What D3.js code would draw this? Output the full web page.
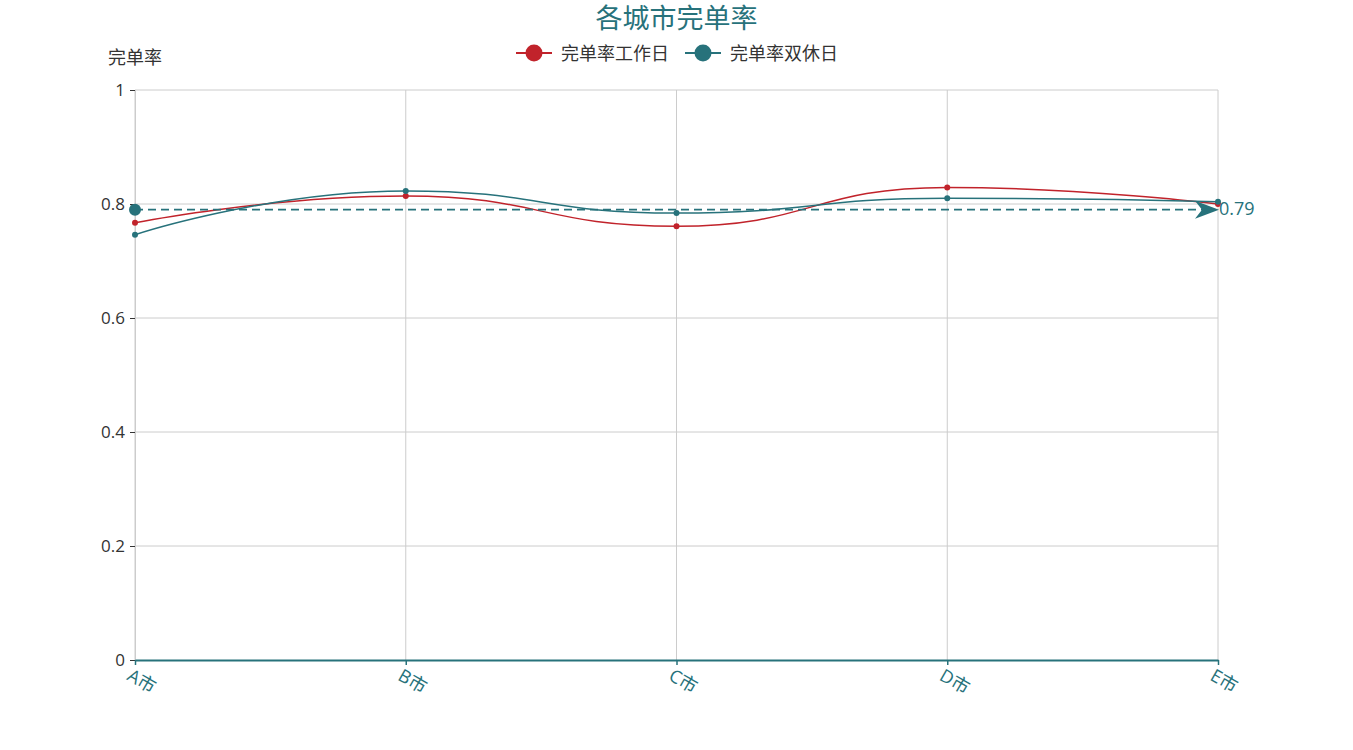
<!DOCTYPE html>
<html>
<head>
<meta charset="utf-8">
<script src="https://cdnjs.cloudflare.com/ajax/libs/d3/7.8.5/d3.min.js"></script>
<style>
  body { margin: 0; background: #fff; }
  text { font-family: "Open Sans", "Noto Sans CJK SC", sans-serif; }
</style>
</head>
<body>
<div id="chart"></div>
<script>
// chart data
const cities = ["A市", "B市", "C市", "D市", "E市"];
const workdayRate = [0.767, 0.814, 0.761, 0.829, 0.800];
const weekendRate = [0.746, 0.823, 0.784, 0.810, 0.804];
const yTicks = [0, 0.2, 0.4, 0.6, 0.8, 1];
const seriesNames = ["完单率工作日", "完单率双休日"];
const markValue = 0.79;

const width = 1353, height = 750;
const margin = { top: 90, right: 135, bottom: 90, left: 135 };
const red = "#c1232b", teal = "#27727b";

const svg = d3.select("#chart").append("svg")
  .attr("width", width)
  .attr("height", height);

const x = d3.scalePoint().domain(cities).range([margin.left, width - margin.right]);
const y = d3.scaleLinear().domain([0, 1]).range([height - margin.bottom, margin.top]);

// title
svg.append("text")
  .attr("x", width / 2).attr("y", 28)
  .attr("text-anchor", "middle")
  .style("font-size", "27px")
  .style("fill", teal)
  .text("各城市完单率");

// legend
const legend = svg.append("g");
const legendItems = [
  { name: seriesNames[0], color: red, x: 516 },
  { name: seriesNames[1], color: teal, x: 685 }
];
legendItems.forEach(d => {
  const g = legend.append("g").attr("transform", `translate(${d.x},53)`);
  g.append("line").attr("x1", 0).attr("x2", 36).attr("y1", 0).attr("y2", 0)
    .style("stroke", d.color).style("stroke-width", 2);
  g.append("circle").attr("cx", 18).attr("cy", 0).attr("r", 8.5).style("fill", d.color);
  g.append("text").attr("x", 45).attr("y", 6.5)
    .style("font-size", "18px").style("fill", "#333").text(d.name);
});

// y axis name
svg.append("text")
  .attr("x", margin.left).attr("y", 64)
  .attr("text-anchor", "middle")
  .style("font-size", "18px").style("fill", "#333")
  .text("完单率");

// grid
const grid = svg.append("g");
grid.selectAll("line.h").data(yTicks.slice(1)).enter().append("line")
  .attr("x1", margin.left).attr("x2", width - margin.right)
  .attr("y1", d => y(d)).attr("y2", d => y(d))
  .style("stroke", "#ccc").style("stroke-width", 1);
grid.selectAll("line.v").data(cities).enter().append("line")
  .attr("x1", d => x(d)).attr("x2", d => x(d))
  .attr("y1", y(1)).attr("y2", y(0))
  .style("stroke", "#ccc").style("stroke-width", 1);

// y axis
const yAxis = svg.append("g")
  .attr("transform", `translate(${margin.left},0)`)
  .call(d3.axisLeft(y).tickValues(yTicks).tickSize(5).tickPadding(5).tickFormat(d3.format("")));
yAxis.select(".domain").style("stroke", "#ccc");
yAxis.selectAll(".tick line").style("stroke", "#333");
yAxis.selectAll(".tick text").style("font-size", "17px").style("fill", "#333")
  .style("font-family", "\"Open Sans\", sans-serif");

// x axis
const xAxis = svg.append("g")
  .attr("transform", `translate(0,${y(0)})`)
  .call(d3.axisBottom(x).tickSize(5).tickSizeOuter(0));
xAxis.select(".domain").style("stroke", teal).style("stroke-width", 2);
xAxis.selectAll(".tick line").style("stroke", teal).style("stroke-width", 1.5);
xAxis.selectAll(".tick text")
  .attr("y", 0).attr("dy", 0)
  .attr("transform", "translate(-2,6) rotate(30)")
  .attr("text-anchor", "start")
  .attr("dominant-baseline", "hanging")
  .style("font-size", "18px").style("fill", teal);

// smooth path like echarts (smooth: 0.5, control points clamped to neighbours)
function smoothPath(pts, smooth) {
  const p = d3.path();
  const clamp = (v, a, b) => Math.max(Math.min(v, Math.max(a, b)), Math.min(a, b));
  const n = pts.length;
  const cpIn = [], cpOut = [];
  for (let i = 0; i < n; i++) {
    const [px, py] = pts[i];
    if (i === 0 || i === n - 1) {
      cpIn[i] = [px, py]; cpOut[i] = [px, py];
      continue;
    }
    const [ax, ay] = pts[i - 1], [bx, by] = pts[i + 1];
    const lenPrev = Math.hypot(px - ax, py - ay);
    const lenNext = Math.hypot(bx - px, by - py);
    const ratio = lenNext / (lenNext + lenPrev);
    const vx = (bx - ax) * smooth, vy = (by - ay) * smooth;
    let ox = clamp(px + vx * ratio, px, bx), oy = clamp(py + vy * ratio, py, by);
    let ix = clamp(px - (ox - px) * lenPrev / lenNext, ax, px);
    let iy = clamp(py - (oy - py) * lenPrev / lenNext, ay, py);
    ox = px + (px - ix) * lenNext / lenPrev;
    oy = py + (py - iy) * lenNext / lenPrev;
    cpIn[i] = [ix, iy]; cpOut[i] = [ox, oy];
  }
  p.moveTo(pts[0][0], pts[0][1]);
  for (let i = 1; i < n; i++) {
    p.bezierCurveTo(cpOut[i - 1][0], cpOut[i - 1][1], cpIn[i][0], cpIn[i][1], pts[i][0], pts[i][1]);
  }
  return p.toString();
}

const series = [
  { values: workdayRate, color: red },
  { values: weekendRate, color: teal }
];
series.forEach(s => {
  const pts = s.values.map((v, i) => [x(cities[i]), y(v)]);
  svg.append("path")
    .attr("d", smoothPath(pts, 0.5))
    .style("fill", "none")
    .style("stroke", s.color)
    .style("stroke-width", 1.5);
  svg.selectAll(null).data(s.values).enter().append("circle")
    .attr("cx", (d, i) => x(cities[i]))
    .attr("cy", d => y(d))
    .attr("r", 3)
    .style("fill", s.color);
});

// mark line for weekend series
const yMark = y(markValue);
const xStart = x(cities[0]), xEnd = x(cities[cities.length - 1]);
svg.append("line")
  .attr("x1", xStart).attr("x2", xEnd - 12)
  .attr("y1", yMark).attr("y2", yMark)
  .style("stroke", teal).style("stroke-width", 1.8)
  .style("stroke-dasharray", "8,5");
svg.append("circle").attr("cx", xStart).attr("cy", yMark).attr("r", 6).style("fill", teal);
svg.append("path")
  .attr("d", `M${xEnd + 1},${yMark} L${xEnd - 23},${yMark - 9} L${xEnd - 16},${yMark} L${xEnd - 23},${yMark + 9} Z`)
  .style("fill", teal);
svg.append("text")
  .attr("x", xEnd + 1).attr("y", yMark + 5)
  .style("font-size", "18px").style("fill", teal)
  .text(d3.format(".2f")(markValue));
</script>
</body>
</html>
